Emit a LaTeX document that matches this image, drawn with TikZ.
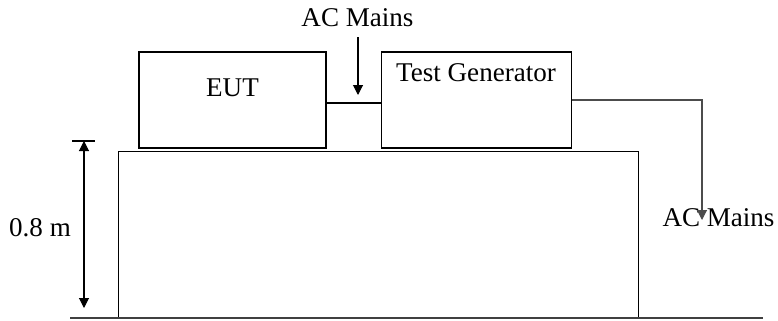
\documentclass[tikz,border=0pt]{standalone}
\usepackage{fontspec}
\setmainfont{Liberation Serif}
\usepackage{tikz}
\usetikzlibrary{arrows.meta, positioning}
\tikzset{
>={Triangle[length=2mm, width=2mm]}, % small filled arrow heads
every path/.style={line width=0.6pt}, % thin lines everywhere
box/.style={draw, minimum width=3.74cm, minimum height=1.92cm, inner sep=0pt}, % the two units on the table
plain/.style={inner sep=0pt}, % bare text labels
}
\tikzset{
  floor/.style={draw=black!75, line width=0.9pt}
}

\begin{document}
\begin{tikzpicture}[font=\fontsize{15.4}{18}\selectfont]
      \useasboundingbox (0,0) rectangle (15.56,6.4);

      \node[box, label={[plain, yshift=0.24cm]center:EUT}] (eut) at (4.65,4.4) {};
      \node[box, minimum width=3.8cm, right=1.08cm of eut,
            label={[plain, yshift=0.54cm]center:Test Generator}] (tg) {};
      \node[draw, minimum width=10.4cm, minimum height=3.32cm, inner sep=0pt,
            anchor=south west] (table) at (2.36,0.04) {};
      \node[plain] (mains1) at (7.15,6.05) {AC Mains};
      \node[plain] (mains2) at (14.37,2.04) {AC Mains};
      \node[plain] (height) at (0.8,1.84) {0.8 m};

      \coordinate (tip1) at (7.16,4.5);
      \coordinate (tip2) at (14.04,2.0);
      \coordinate (top) at (1.68,3.58);
      \coordinate (bot) at (1.68,0.24);

      \draw ([yshift=-0.06cm]eut.east) -- ([yshift=-0.06cm]tg.west);
      \draw[->] (mains1.south -| tip1) ++(0,-0.2) -- (tip1);
      \draw[->, draw=black!70] (tg.east) -| (tip2);
      \draw[<->] (top) -- (bot);
      \draw ([xshift=-0.24cm]top) -- ([xshift=0.22cm]top);
      \draw[floor] (1.4,0.04) -- (15.26,0.04);
    \end{tikzpicture}
\end{document}
